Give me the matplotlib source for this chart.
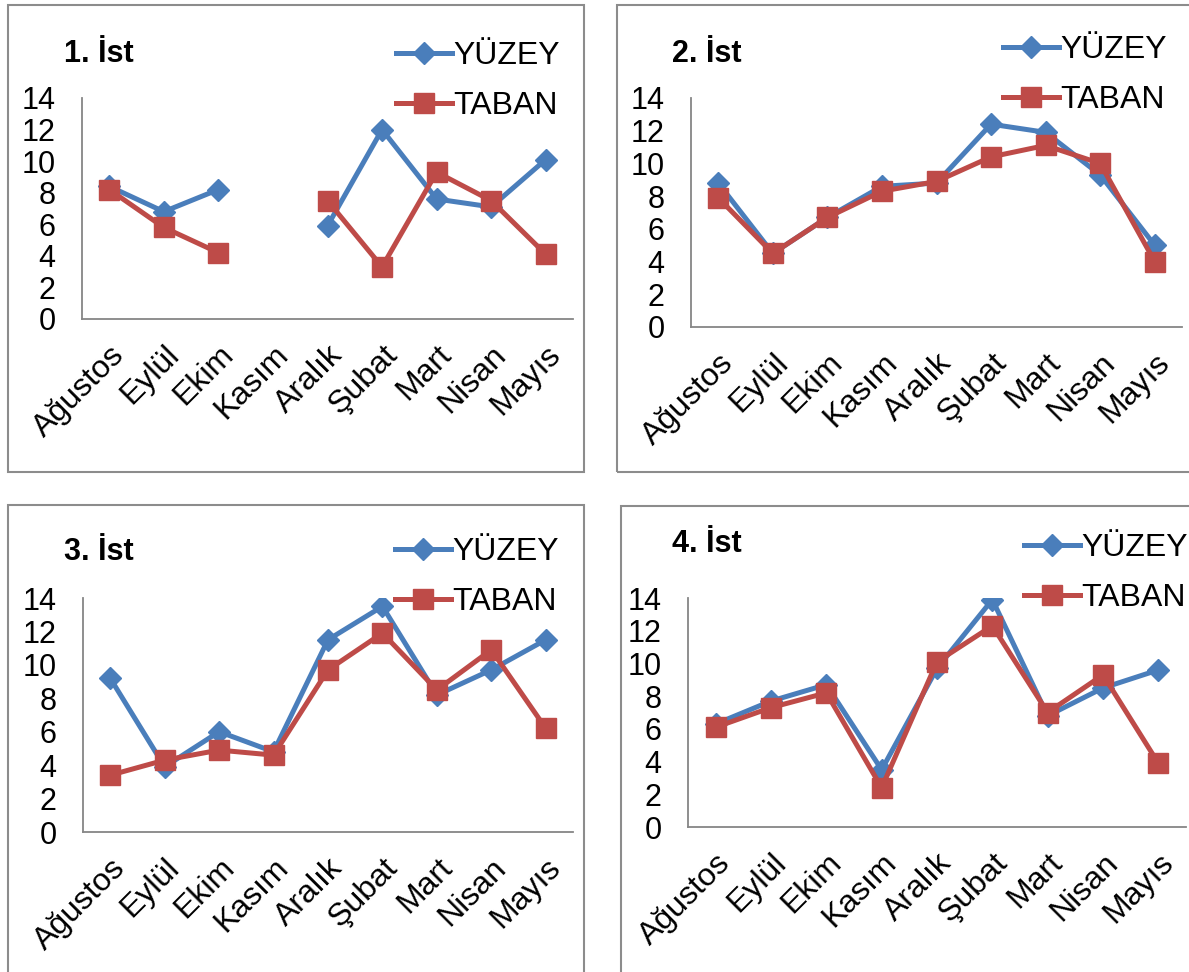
import numpy as np
import matplotlib
matplotlib.use("Agg")
import matplotlib.pyplot as plt
from matplotlib.patches import Rectangle

plt.rcParams['font.family'] = ['Liberation Sans', 'DejaVu Sans']

months = ["Ağustos", "Eylül", "Ekim", "Kasım", "Aralık", "Şubat", "Mart", "Nisan", "Mayıs"]
stations = ["1. İst", "2. İst", "3. İst", "4. İst"]

# surface (YÜZEY) and bottom (TABAN) values per station
yuzey_1 = [8.4, 6.8, 8.2, np.nan, 5.9, 12.0, 7.6, 7.1, 10.1]
taban_1 = [8.2, 5.8, 4.2, np.nan, 7.5, 3.3, 9.3, 7.5, 4.1]
yuzey_2 = [8.8, 4.5, 6.7, 8.6, 8.8, 12.4, 11.9, 9.3, 5.0]
taban_2 = [7.9, 4.5, 6.7, 8.3, 8.9, 10.4, 11.1, 10.0, 4.0]
yuzey_3 = [9.2, 3.9, 6.0, 4.8, 11.5, 13.5, 8.2, 9.7, 11.5]
taban_3 = [3.4, 4.3, 4.9, 4.6, 9.7, 11.9, 8.5, 10.9, 6.2]
yuzey_4 = [6.3, 7.7, 8.7, 3.5, 9.7, 13.9, 6.8, 8.5, 9.6]
taban_4 = [6.1, 7.3, 8.2, 2.4, 10.1, 12.3, 7.0, 9.3, 3.9]

yuzey = [yuzey_1, yuzey_2, yuzey_3, yuzey_4]
taban = [taban_1, taban_2, taban_3, taban_4]

W, H = 1189, 972
BLUE = "#4a7ebb"
RED = "#be4b48"
GRAY = "#868686"


def px_rect(left, top, right, bottom):
    return [left / W, 1 - bottom / H, (right - left) / W, (bottom - top) / H]


# plot areas, chart borders, title and legend anchors (pixels)
plot_boxes = [(82, 98, 573, 319), (691, 98, 1182, 327),
              (83, 598, 573, 832), (688, 598, 1186, 827)]
frames = [(8, 5, 584, 472), (617, 5, 1195, 472),
          (8, 505, 584, 980), (621, 506, 1195, 980)]
title_pos = [(64, 54), (672, 54), (64, 552), (672, 544)]
legend_pos = [(396, 41), (1003, 35), (395, 537), (1024, 533)]

fig = plt.figure(figsize=(W / 100, H / 100), dpi=100)

for f in frames:
    fig.patches.append(Rectangle((f[0] / W, 1 - f[3] / H), (f[2] - f[0]) / W, (f[3] - f[1]) / H,
                                 transform=fig.transFigure, fill=False,
                                 edgecolor="#8c8c8c", linewidth=1.5))

x = np.arange(len(months))
for i in range(4):
    ax = fig.add_axes(px_rect(*plot_boxes[i]))
    ax.plot(x, yuzey[i], color=BLUE, linewidth=3.6, marker='D', markersize=11,
            markerfacecolor=BLUE, markeredgecolor=BLUE, label="YÜZEY")
    ax.plot(x, taban[i], color=RED, linewidth=3.6, marker='s', markersize=15,
            markerfacecolor=RED, markeredgecolor=RED, label="TABAN")
    ax.set_xlim(-0.5, len(months) - 0.5)
    ax.set_ylim(0, 14)
    ax.set_yticks(range(0, 15, 2))
    ax.set_xticks(x)
    ax.set_xticklabels(months, rotation=45, ha='right', rotation_mode='anchor')
    ax.tick_params(axis='y', length=0, labelsize=22, pad=19)
    ax.tick_params(axis='x', length=0, labelsize=23, pad=15)
    for s in ['top', 'right']:
        ax.spines[s].set_visible(False)
    for s in ['left', 'bottom']:
        ax.spines[s].set_color(GRAY)
        ax.spines[s].set_linewidth(1.3)

    tx, ty = title_pos[i]
    fig.text(tx / W, 1 - ty / H, stations[i], fontsize=22, fontweight='bold',
             ha='left', va='center')

    lx, ly = legend_pos[i]
    ax.legend(loc='upper left', bbox_to_anchor=(lx / W, 1 - ly / H),
              bbox_transform=fig.transFigure, frameon=False, fontsize=23,
              handlelength=1.75, handletextpad=0.05, labelspacing=0.62,
              borderpad=0, borderaxespad=0)

fig.savefig("out.png", dpi=100)
